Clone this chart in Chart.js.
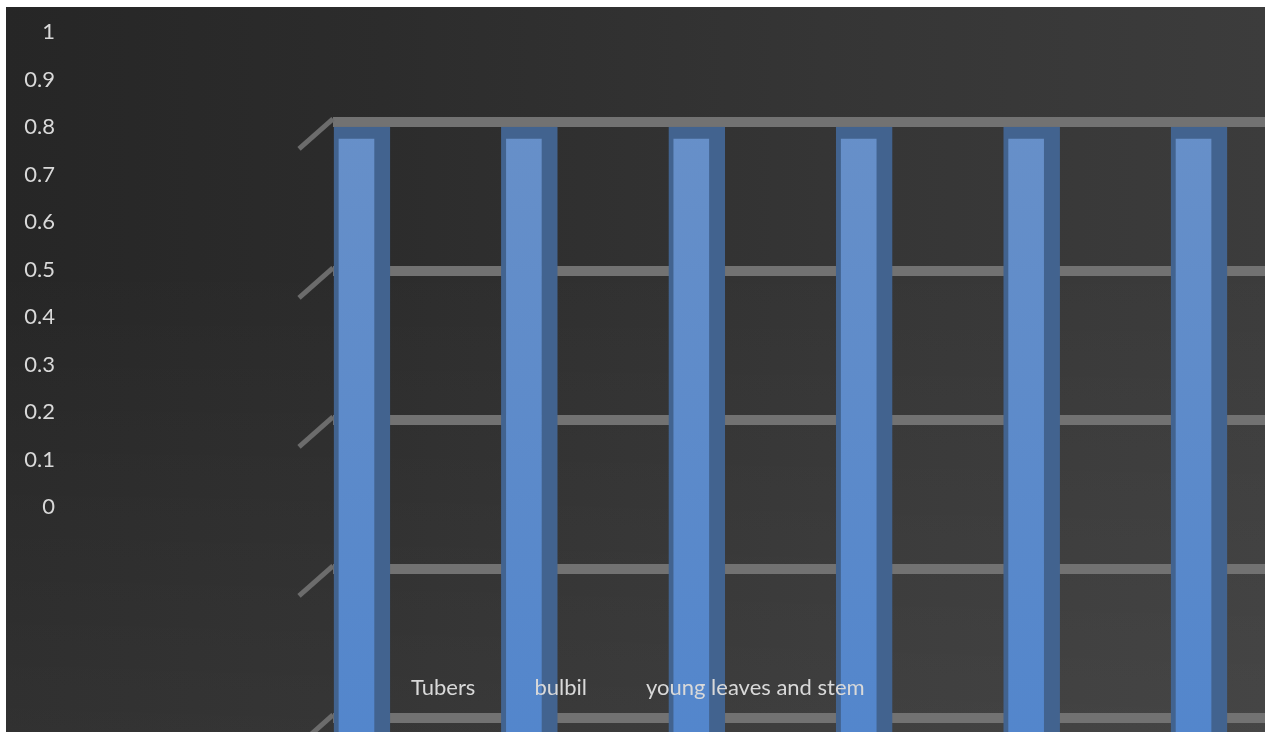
<!DOCTYPE html>
<html>
<head>
<meta charset="utf-8">
<title>Tubers / bulbil / young leaves and stem</title>
<script src="https://cdn.jsdelivr.net/npm/chart.js@4/dist/chart.umd.min.js"></script>
<style>
  html, body { margin: 0; padding: 0; background: #fff; overflow: hidden; }
  #wrap {
    position: absolute; left: 6px; top: 7px; width: 1259px; height: 725px;
    background:
      linear-gradient(to bottom, rgba(255,255,255,0) 35%, rgba(255,255,255,0.05) 100%),
      linear-gradient(to right, #262626 0%, #2c2c2c 30%, #353535 65%, #3c3c3c 100%);
  }
  #myChart { position: absolute; left: 0; top: 0; }
  #legend {
    position: absolute; left: 405px; top: 668px;
    font: 22px Lato, sans-serif; line-height: 24px; color: #d9d9d9; white-space: nowrap;
  }
  #legend span { margin-right: 59px; }
</style>
</head>
<body>
<div id="wrap">
  <canvas id="myChart" width="1259" height="725"></canvas>
  <div id="legend"></div>
</div>
<script>
// series shown in the legend
const seriesNames = ['Tubers', 'bulbil', 'young leaves and stem'];
// two groups of bars per series
const tubersValues = [0.8, 0.8];
const bulbilValues = [0.8, 0.8];
const youngValues = [0.8, 0.8];
// left axis labels
const yTickValues = [0, 0.1, 0.2, 0.3, 0.4, 0.5, 0.6, 0.7, 0.8, 0.9, 1];
// back wall lines of the 3d box
const wallTicks = [0, 1, 2, 3, 4];

const Y_MIN = -0.4737;
const seriesValues = [tubersValues, bulbilValues, youngValues];

function barFace(ctx) {
    const a = ctx.chart.chartArea;
    if (!a) return '#6390c9';
    const g = ctx.chart.ctx.createLinearGradient(0, a.top, 0, a.bottom);
    g.addColorStop(0, '#6a91c8');
    g.addColorStop(1, '#5386cc');
    return g;
}

const datasets = seriesNames.map(function(name, k) {
    return {
        label: name,
        data: seriesValues[k].map((v, g) => ({x: g * seriesNames.length + k, y: v})),
        backgroundColor: barFace,
        borderColor: '#42638f',
        borderWidth: {left: 5, right: 16, top: 12, bottom: 0},
        borderSkipped: 'bottom',
        barThickness: 56,
        grouped: false,
        base: Y_MIN
    };
});

// little slanted lines at the left end of every wall line
const depthStubs = {
    id: 'depthStubs',
    beforeDatasetsDraw(chart) {
        const s = chart.scales.y2;
        const left = chart.chartArea.left;
        const ctx = chart.ctx;
        ctx.save();
        ctx.strokeStyle = '#6c6c6c';
        ctx.lineWidth = 5;
        s.ticks.forEach(function(t) {
            const y = s.getPixelForValue(t.value);
            ctx.beginPath();
            ctx.moveTo(left, y - 3);
            ctx.lineTo(left - 34, y + 27);
            ctx.stroke();
        });
        ctx.restore();
    }
};

const config = {
    type: 'bar',
    data: {datasets: datasets},
    options: {
        responsive: false,
        animation: false,
        layout: {padding: {top: 25, right: 0, bottom: 0, left: 0}},
        plugins: {
            legend: {display: false},
            tooltip: {enabled: false}
        },
        scales: {
            x: {
                type: 'linear',
                display: false,
                offset: false,
                min: -0.173,
                max: 5.394
            },
            y: {
                type: 'linear',
                position: 'left',
                min: Y_MIN,
                max: 1,
                grid: {display: false, drawTicks: false},
                border: {display: false},
                afterBuildTicks: s => { s.ticks = yTickValues.map(v => ({value: v})); },
                afterFit: s => { s.width = 327; s.paddingTop = 0; s.paddingBottom = 0; },
                ticks: {
                    padding: 278,
                    autoSkip: false,
                    color: '#d9d9d9',
                    font: {family: 'Lato', size: 22},
                    callback: v => String(Math.round(v * 10) / 10)
                }
            },
            y2: {
                type: 'linear',
                position: 'left',
                min: -0.094,
                max: 4.604,
                border: {display: false},
                grid: {color: '#727272', lineWidth: 10, drawTicks: false},
                ticks: {display: false},
                afterBuildTicks: s => { s.ticks = wallTicks.map(v => ({value: v})); },
                afterFit: s => { s.width = 0; s.paddingTop = 0; s.paddingBottom = 0; }
            }
        }
    },
    plugins: [depthStubs]
};

const myChart = new Chart(document.getElementById('myChart'), config);

// legend as plain text under the bars
const legendArea = document.getElementById('legend');
myChart.data.datasets.forEach(function(d) {
    const item = document.createElement('span');
    item.textContent = d.label;
    legendArea.append(item);
});
</script>
</body>
</html>
